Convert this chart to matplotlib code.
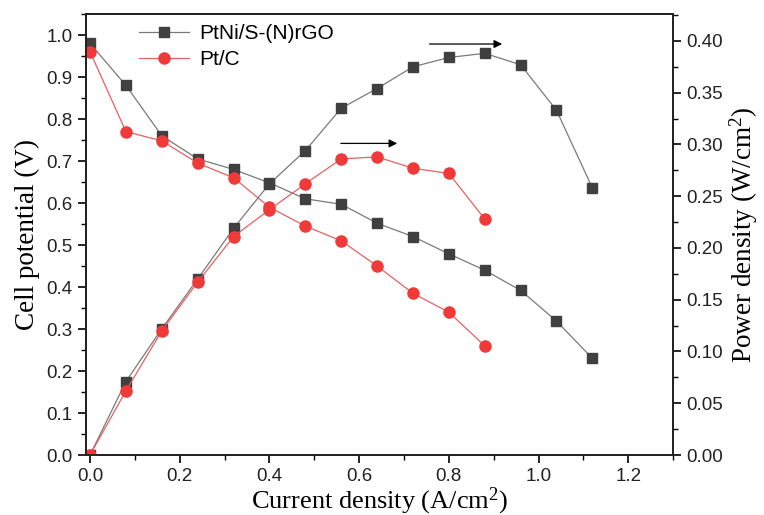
import matplotlib
matplotlib.use("Agg")
import matplotlib.pyplot as plt
from matplotlib.ticker import MultipleLocator, FormatStrFormatter

# ---- data ----
current_ptni = [0.0, 0.08, 0.16, 0.24, 0.32, 0.40, 0.48, 0.56, 0.64, 0.72, 0.80, 0.88, 0.96, 1.04, 1.12]
voltage_ptni = [0.98, 0.88, 0.76, 0.705, 0.68, 0.648, 0.61, 0.597, 0.552, 0.52, 0.479, 0.44, 0.392, 0.319, 0.23]
power_ptni = [0.0, 0.071, 0.122, 0.170, 0.219, 0.262, 0.294, 0.335, 0.354, 0.375, 0.384, 0.388, 0.377, 0.333, 0.258]

current_ptc = [0.0, 0.08, 0.16, 0.24, 0.32, 0.40, 0.48, 0.56, 0.64, 0.72, 0.80, 0.88]
voltage_ptc = [0.96, 0.77, 0.748, 0.695, 0.66, 0.59, 0.545, 0.51, 0.45, 0.385, 0.34, 0.26]
power_ptc = [0.0, 0.062, 0.120, 0.167, 0.211, 0.237, 0.262, 0.286, 0.288, 0.277, 0.272, 0.228]

labels = ["PtNi/S-(N)rGO", "Pt/C"]

plt.rcParams["mathtext.fontset"] = "custom"
plt.rcParams["mathtext.rm"] = "Liberation Serif"
plt.rcParams["mathtext.it"] = "Liberation Serif:italic"

dark_mk = "#404040"
dark_ln = "#7a7a7a"
red_mk = "#f03a3a"
red_ln = "#e86060"

fig = plt.figure(figsize=(7.64, 5.15), dpi=100)
ax = fig.add_axes([0.1126, 0.1165, 0.7684, 0.8563])
ax2 = ax.twinx()

tickfont = "Liberation Sans"
labfont = "Liberation Serif"

ax.plot(current_ptni, voltage_ptni, color=dark_ln, lw=0.9, marker="s", ms=7.5,
        mfc=dark_mk, mec=dark_mk, label=labels[0])
ax.plot(current_ptc, voltage_ptc, color=red_ln, lw=0.9, marker="o", ms=8,
        mfc=red_mk, mec=red_mk, label=labels[1])
ax2.plot(current_ptni, power_ptni, color=dark_ln, lw=0.9, marker="s", ms=7.5,
         mfc=dark_mk, mec=dark_mk)
ax2.plot(current_ptc, power_ptc, color=red_ln, lw=0.9, marker="o", ms=8,
         mfc=red_mk, mec=red_mk)

ax.set_xlim(-0.009, 1.30)
ax.set_ylim(0, 1.05)
ax2.set_ylim(0, 0.426)

ax.xaxis.set_major_locator(MultipleLocator(0.2))
ax.xaxis.set_minor_locator(MultipleLocator(0.1))
ax.yaxis.set_major_locator(MultipleLocator(0.1))
ax.yaxis.set_minor_locator(MultipleLocator(0.05))
ax2.yaxis.set_major_locator(MultipleLocator(0.05))
ax2.yaxis.set_minor_locator(MultipleLocator(0.025))

for a in (ax, ax2):
    a.tick_params(which="major", direction="out", length=6, width=1.2, labelsize=13.5)
    a.tick_params(which="minor", direction="out", length=3.5, width=1.0)
    for s in a.spines.values():
        s.set_linewidth(1.3)
        s.set_color("#222222")
ax.tick_params(axis="x", top=False, which="both")
ax.tick_params(axis="x", which="major", pad=3)

ax.xaxis.set_major_formatter(FormatStrFormatter("%.1f"))
ax.yaxis.set_major_formatter(FormatStrFormatter("%.1f"))
ax2.yaxis.set_major_formatter(FormatStrFormatter("%.2f"))
for lbl in ax.get_xticklabels() + ax.get_yticklabels() + ax2.get_yticklabels():
    lbl.set_fontfamily(tickfont)
    lbl.set_color("#222222")

ax.set_xlabel(r"Current density $\mathregular{(A/cm^2)}$", fontfamily=labfont, fontsize=19, labelpad=0.5)
ax.set_ylabel("Cell potential (V)", fontfamily=labfont, fontsize=19.5, labelpad=5)
ax2.set_ylabel(r"Power density $\mathregular{(W/cm^2)}$", fontfamily=labfont, fontsize=19.5, labelpad=3)

leg = ax.legend(loc="upper left", bbox_to_anchor=(0.065, 1.01), frameon=False,
                prop={"family": tickfont, "size": 15}, handlelength=2.4,
                labelspacing=0.35, borderaxespad=0.3, handletextpad=0.5)

ax2.annotate("", xy=(0.925, 0.397), xytext=(0.751, 0.397),
             arrowprops=dict(arrowstyle="-|>", color="black", lw=0.9,
                             mutation_scale=12))
ax2.annotate("", xy=(0.691, 0.301), xytext=(0.553, 0.301),
             arrowprops=dict(arrowstyle="-|>", color="black", lw=0.9,
                             mutation_scale=12))

fig.savefig("out.png", dpi=100)
